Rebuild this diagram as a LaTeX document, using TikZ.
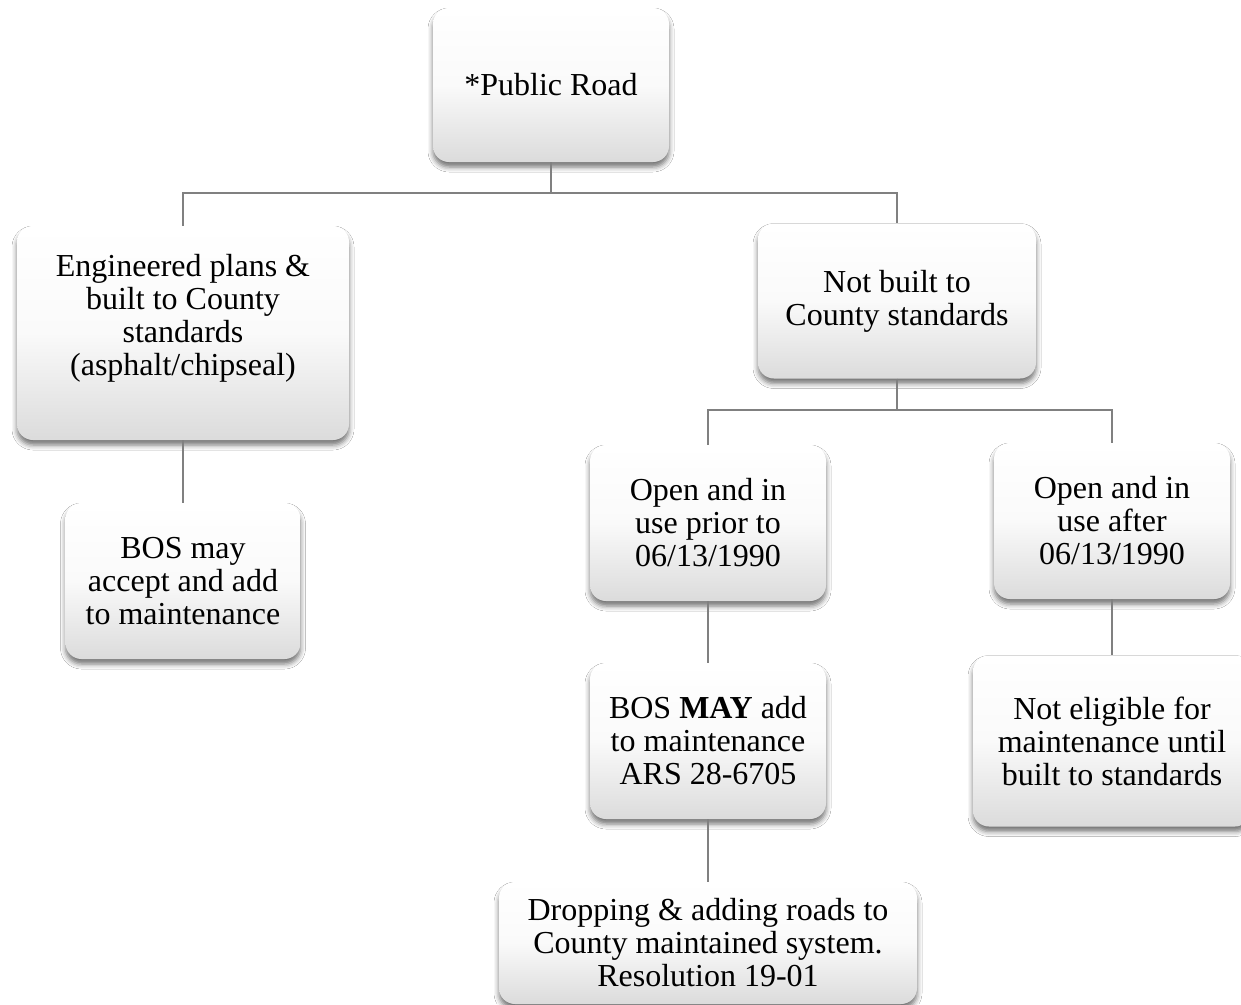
\documentclass[tikz,border=0pt]{standalone}
\usepackage{fontspec}
\setmainfont{Liberation Serif}
\usetikzlibrary{shadows.blur}
\begin{document}
\begin{tikzpicture}[x=1pt,y=-1pt,
  box/.style={rounded corners=16pt, inner sep=0pt, align=center,
    top color=white, bottom color=black!14, middle color=white!98!black,
    blur shadow={shadow xshift=0pt, shadow yshift=-5pt, shadow blur radius=5pt, shadow opacity=55},
    font=\fontsize{32}{33}\selectfont},
  boxtext/.style={inner sep=0pt, align=center, font=\fontsize{32}{33}\selectfont},
  conn/.style={draw=black!50, line width=1.6pt}]
\useasboundingbox (0,0) rectangle (1241,1004);
\fill[white] (0,0) rectangle (1241,1004);

\node[box, minimum width=236pt, minimum height=154pt] (pr) at (551,85) {*Public Road};
\node[box, minimum width=332pt, minimum height=214pt] (eng) at (183,333) {};
\node[boxtext] (engt) at (183,318) {Engineered plans \&\\built to County\\standards\\(asphalt/chipseal)};
\node[box, minimum width=278pt, minimum height=155pt] (nb) at (897,301) {Not built to\\County standards};
\node[box, minimum width=235pt, minimum height=156pt] (bos) at (183,581) {BOS may\\accept and add\\to maintenance};
\node[box, minimum width=236pt, minimum height=156pt] (op) at (708,523) {Open and in\\use prior to\\06/13/1990};
\node[box, minimum width=236pt, minimum height=156pt] (oa) at (1112,521) {Open and in\\use after\\06/13/1990};
\node[box, minimum width=236pt, minimum height=156pt] (bm) at (708,741) {BOS \textbf{MAY} add\\to maintenance\\ARS 28-6705};
\node[box, minimum width=278pt, minimum height=171pt] (ne) at (1112,741) {Not eligible for\\maintenance until\\built to standards};
\node[box, minimum width=418pt, minimum height=122pt] (dr) at (708,943) {Dropping \& adding roads to\\County maintained system.\\Resolution 19-01};

\draw[conn] (pr.south) -- ++(0,31) -| (eng.north);
\draw[conn] (pr.south) -- ++(0,31) -| (nb.north);
\draw[conn] (nb.south) -- ++(0,31) -| (op.north);
\draw[conn] (nb.south) -- ++(0,31) -| (oa.north);
\draw[conn] (eng.south) -- (bos.north);
\draw[conn] (op.south) -- (bm.north);
\draw[conn] (bm.south) -- (dr.north);
\draw[conn] (oa.south) -- (ne.north);
\end{tikzpicture}
\end{document}
